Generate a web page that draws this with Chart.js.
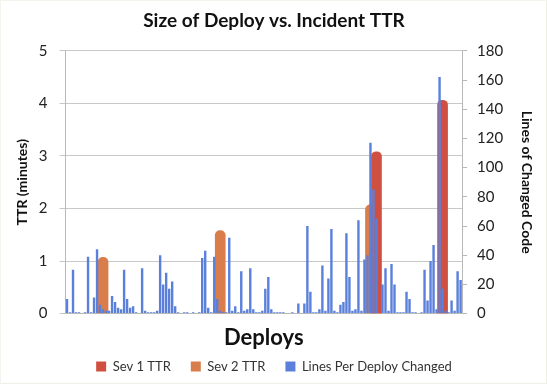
<!DOCTYPE html>
<html>
<head>
<meta charset="utf-8">
<script src="https://cdn.jsdelivr.net/npm/chart.js@4"></script>
<style>
  html, body { margin: 0; padding: 0; background: #fff; }
  #wrap {
    width: 545px; height: 382px;
    border-top: 1px solid #f3f4ee; border-left: 1px solid #f3f4ee;
    border-right: 1px solid #eef0e4; border-bottom: 1px solid #eef0e4;
  }
</style>
</head>
<body>
<div id="wrap"><canvas id="myChart" width="545" height="382"></canvas></div>
<script>
// Lines of code changed per deploy (right axis)
const linesChanged = [
  10, 1, 30, 1, 1, 0, 1, 39, 1, 11, 44, 6, 3, 2, 2, 12, 8, 4, 3, 30,
  10, 4, 5, 1, 0, 31, 2, 1, 1, 1, 2, 40, 20, 28, 17, 22, 5, 1, 0, 1,
  1, 0, 1, 0, 1, 38, 43, 4, 1, 39, 10, 2, 1, 1, 52, 2, 5, 1, 29, 2,
  3, 31, 3, 1, 1, 2, 17, 25, 3, 1, 1, 1, 1, 0, 0, 1, 0, 7, 0, 7,
  60, 15, 1, 1, 3, 33, 2, 24, 58, 2, 1, 6, 8, 55, 25, 2, 3, 64, 2, 37,
  40, 117, 85, 65, 0, 20, 31, 2, 34, 20, 1, 1, 1, 15, 10, 1, 1, 0, 1, 30,
  9, 36, 47, 3, 162, 17, 2, 1, 9, 2, 29, 23
];

// Incident TTR in minutes (left axis), placed at the deploy that caused it
const sev1At = [103, 125];
const sev1Values = [3.08, 4.06];
const sev2At = [12, 51, 101];
const sev2Values = [1.07, 1.58, 2.07];

const deploys = linesChanged.map((v, i) => i + 1);

function spread(at, values) {
  const out = Array(linesChanged.length).fill(null);
  at.forEach((idx, k) => { out[idx] = values[k]; });
  return out;
}

Chart.defaults.font.family = "Lato, 'Open Sans', sans-serif";
Chart.defaults.color = "#222";

new Chart(document.getElementById("myChart"), {
  type: "bar",
  data: {
    labels: deploys,
    datasets: [
      {
        label: "Sev 1 TTR",
        data: spread(sev1At, sev1Values),
        backgroundColor: "#cf5040",
        yAxisID: "y",
        barThickness: 10,
        borderRadius: 5,
        borderSkipped: "start",
        order: 1
      },
      {
        label: "Sev 2 TTR",
        data: spread(sev2At, sev2Values),
        backgroundColor: "#d87d4b",
        yAxisID: "y",
        barThickness: 10,
        borderRadius: 5,
        borderSkipped: "start",
        order: 1
      },
      {
        label: "Lines Per Deploy Changed",
        data: linesChanged,
        backgroundColor: "#5a80dc",
        yAxisID: "y1",
        barPercentage: 0.8,
        categoryPercentage: 1,
        order: 0
      }
    ]
  },
  options: {
    responsive: false,
    animation: false,
    datasets: { bar: { grouped: false } },
    layout: { padding: { left: 5, right: 4, top: 4, bottom: 0 } },
    plugins: {
      title: {
        display: true,
        text: "Size of Deploy vs. Incident TTR",
        font: { size: 19, weight: "bold" },
        color: "#111",
        padding: { top: 4, bottom: 19 }
      },
      legend: {
        position: "bottom",
        labels: {
          boxWidth: 10, boxHeight: 10,
          font: { size: 13 },
          color: "#333",
          padding: 20,
          sort: (a, b) => a.datasetIndex - b.datasetIndex
        }
      },
      tooltip: { enabled: false }
    },
    scales: {
      x: {
        ticks: { display: false },
        grid: { display: false, drawTicks: false },
        border: { color: "#b8b8b8" },
        title: {
          display: true,
          text: "Deploys",
          font: { size: 22, weight: "bold" },
          color: "#111",
          padding: { top: 11, bottom: -11 }
        }
      },
      y: {
        position: "left",
        min: 0, max: 5,
        ticks: { stepSize: 1, font: { size: 15 }, color: "#222", padding: 12 },
        grid: { color: "#c8c8c8", tickLength: 6 },
        border: { color: "#b8b8b8" },
        title: {
          display: true,
          text: "TTR (minutes)",
          font: { size: 14, weight: "bold" },
          color: "#111",
          padding: { top: 8, bottom: -4 }
        }
      },
      y1: {
        position: "right",
        min: 0, max: 180,
        ticks: { stepSize: 20, font: { size: 15 }, color: "#222", padding: 10 },
        grid: { drawOnChartArea: false, color: "#b8b8b8", tickLength: 5 },
        border: { color: "#b8b8b8" },
        title: {
          display: true,
          text: "Lines of Changed Code",
          font: { size: 14, weight: "bold" },
          color: "#111",
          padding: { top: 7, bottom: 5 }
        }
      }
    }
  }
});
</script>
</body>
</html>
